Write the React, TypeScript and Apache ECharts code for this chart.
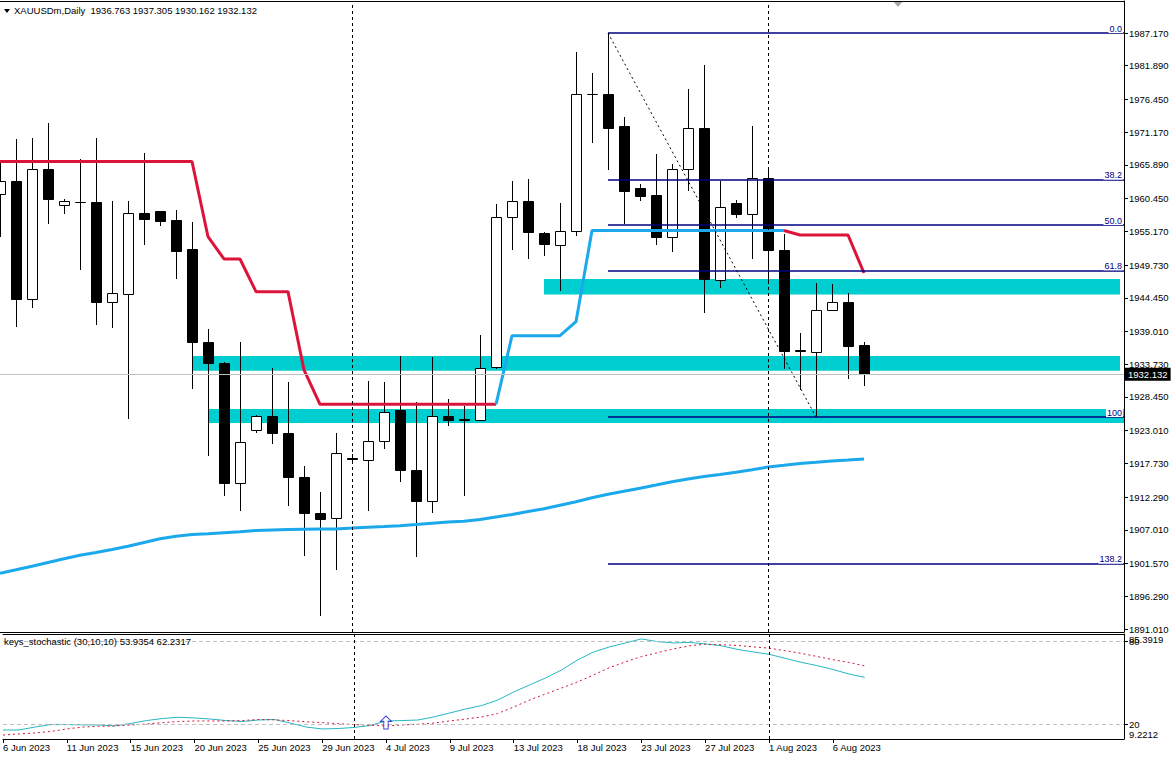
import React, { useEffect, useRef } from 'react';
import * as echarts from 'echarts';

// ---------------- data ----------------
const dates = [
  '6 Jun 2023', '7 Jun 2023', '8 Jun 2023', '9 Jun 2023', '11 Jun 2023', '12 Jun 2023', '13 Jun 2023', '14 Jun 2023',
  '15 Jun 2023', '16 Jun 2023', '18 Jun 2023', '19 Jun 2023', '20 Jun 2023', '21 Jun 2023', '22 Jun 2023', '23 Jun 2023',
  '25 Jun 2023', '26 Jun 2023', '27 Jun 2023', '28 Jun 2023', '29 Jun 2023', '30 Jun 2023', '2 Jul 2023', '3 Jul 2023',
  '4 Jul 2023', '5 Jul 2023', '6 Jul 2023', '7 Jul 2023', '9 Jul 2023', '10 Jul 2023', '11 Jul 2023', '12 Jul 2023',
  '13 Jul 2023', '14 Jul 2023', '16 Jul 2023', '17 Jul 2023', '18 Jul 2023', '19 Jul 2023', '20 Jul 2023', '21 Jul 2023',
  '23 Jul 2023', '24 Jul 2023', '25 Jul 2023', '26 Jul 2023', '27 Jul 2023', '28 Jul 2023', '30 Jul 2023', '31 Jul 2023',
  '1 Aug 2023', '2 Aug 2023', '3 Aug 2023', '4 Aug 2023', '6 Aug 2023', '7 Aug 2023', '8 Aug 2023',
];

const opens = [
  1961.2, 1963.3, 1944.3, 1965.2, 1959.5, 1959.9, 1959.9, 1943.8, 1945.0, 1958.1, 1958.5, 1957.0, 1952.3, 1937.3,
  1933.9, 1914.5, 1923.1, 1925.3, 1922.6, 1915.5, 1909.8, 1908.9, 1918.6, 1918.2, 1921.3, 1926.3, 1916.7, 1911.6,
  1925.3, 1924.9, 1924.8, 1933.3, 1957.5, 1960.0, 1954.9, 1953.0, 1955.3, 1977.3, 1977.4, 1972.2, 1962.1, 1961.0,
  1954.3, 1965.2, 1971.8, 1947.3, 1959.7, 1957.9, 1963.7, 1952.2, 1935.9, 1935.7, 1942.5, 1943.8, 1936.763,
];
const highs = [
  1966.2, 1970.1, 1970.3, 1972.6, 1960.4, 1966.8, 1970.2, 1960.0, 1960.1, 1967.8, 1958.5, 1958.6, 1956.6, 1939.4,
  1934.1, 1937.3, 1925.5, 1933.2, 1930.8, 1917.3, 1913.1, 1922.7, 1919.2, 1931.0, 1930.8, 1935.1, 1927.6, 1934.9,
  1928.2, 1927.0, 1938.4, 1959.6, 1963.3, 1963.6, 1955.1, 1959.8, 1984.1, 1980.7, 1987.17, 1973.6, 1962.8, 1967.7,
  1966.0, 1978.1, 1982.0, 1963.3, 1960.3, 1972.2, 1965.1, 1954.7, 1938.7, 1946.8, 1946.7, 1945.2, 1937.305,
];
const lows = [
  1954.3, 1939.8, 1942.8, 1956.4, 1957.9, 1949.0, 1940.0, 1939.6, 1924.9, 1953.0, 1956.0, 1947.5, 1929.7, 1919.0,
  1912.4, 1910.1, 1922.7, 1920.9, 1910.9, 1902.8, 1893.1, 1900.6, 1918.0, 1910.1, 1920.0, 1914.8, 1902.7, 1909.7,
  1923.8, 1912.4, 1924.5, 1932.9, 1952.2, 1950.7, 1951.2, 1945.6, 1954.4, 1969.5, 1965.1, 1956.4, 1960.1, 1953.0,
  1951.9, 1961.7, 1942.0, 1946.0, 1957.3, 1950.7, 1947.0, 1932.9, 1929.6, 1925.21, 1942.4, 1931.4, 1930.162,
];
const closes = [
  1963.3, 1944.3, 1965.2, 1960.4, 1960.0, 1959.85, 1943.8, 1945.2, 1958.1, 1957.2, 1956.9, 1952.0, 1937.3, 1933.9,
  1914.5, 1921.2, 1925.3, 1922.6, 1915.5, 1909.8, 1908.7, 1919.4, 1918.4, 1921.3, 1926.1, 1916.7, 1911.6, 1925.3,
  1924.8, 1924.8, 1933.2, 1957.5, 1960.0, 1955.1, 1953.1, 1955.3, 1977.3, 1977.4, 1971.9, 1961.7, 1960.9, 1954.3,
  1965.2, 1971.8, 1947.4, 1959.1, 1957.9, 1963.7, 1952.1, 1935.9, 1936.0, 1942.4, 1943.7, 1936.7, 1932.132,
];

const maValues = [
  1900.0, 1900.56, 1901.13, 1901.74, 1902.34, 1902.9, 1903.35, 1903.84, 1904.35, 1904.97, 1905.56, 1905.97, 1906.26,
  1906.37, 1906.53, 1906.69, 1906.89, 1907.0, 1907.06, 1907.1, 1907.13, 1907.16, 1907.29, 1907.44, 1907.55, 1907.68,
  1907.87, 1908.08, 1908.27, 1908.4, 1908.68, 1909.08, 1909.48, 1909.97, 1910.4, 1910.97, 1911.53, 1912.18, 1912.76,
  1913.24, 1913.73, 1914.24, 1914.78, 1915.21, 1915.6, 1915.94, 1916.29, 1916.71, 1917.15, 1917.42, 1917.7, 1917.91,
  1918.13, 1918.28, 1918.44,
];

const superTrendDown = [
  1966.44, 1966.44, 1966.44, 1966.44, 1966.44, 1966.44, 1966.44, 1966.44, 1966.44, 1966.44, 1966.44, 1966.44, 1966.44,
  1954.3, 1950.71, 1950.71, 1945.44, 1945.44, 1945.44, 1932.8, 1927.26, 1927.26, 1927.26, 1927.26, 1927.26, 1927.26,
  1927.26, 1927.26, 1927.26, 1927.26, 1927.26, 1927.26, null, null, null, null, null, null, null, null, null, null,
  null, null, null, null, null, null, null, 1955.3, 1954.58, 1954.58, 1954.58, 1954.58, 1948.45,
];
const superTrendUp = [
  null, null, null, null, null, null, null, null, null, null, null, null, null, null, null, null, null, null, null,
  null, null, null, null, null, null, null, null, null, null, null, null, 1927.26, 1938.33, 1938.33, 1938.33, 1938.33,
  1940.59, 1955.3, 1955.3, 1955.3, 1955.3, 1955.3, 1955.3, 1955.3, 1955.3, 1955.3, 1955.3, 1955.3, 1955.3, 1955.3,
  null, null, null, null, null,
];

const stochMain = [
  15.75, 15.75, 17.9, 19.7, 19.7, 19.5, 19.4, 18.7, 20.5, 22.6, 24.1, 25.0, 24.5, 23.7, 22.6, 21.9, 23.0, 23.4, 20.8,
  17.9, 16.5, 16.8, 17.6, 19.0, 22.3, 22.6, 23.0, 25.2, 28.1, 31.0, 33.5, 37.5, 43.3, 48.4, 53.5, 59.3, 66.5, 72.3,
  76.0, 78.9, 81.8, 79.9, 78.9, 79.3, 78.2, 76.9, 74.3, 72.4, 70.7, 67.8, 64.9, 62.5, 59.7, 56.4, 53.9354,
];
const stochSignal = [
  12.1, 12.9, 13.6, 14.7, 16.5, 17.9, 18.4, 18.7, 19.4, 20.1, 21.1, 21.9, 22.3, 22.3, 22.3, 22.6, 23.4, 23.1, 22.5,
  21.7, 21.1, 20.3, 19.7, 19.2, 18.7, 19.4, 19.9, 20.8, 22.3, 23.7, 25.2, 27.7, 32.4, 37.5, 41.9, 46.2, 50.6, 55.6,
  61.0, 65.1, 69.0, 71.8, 74.5, 76.8, 78.0, 77.6, 77.1, 76.1, 75.1, 73.3, 71.4, 69.1, 66.8, 64.8, 62.2317,
];
const stochArrows = [[24, 21.2]];
const stochLevels = [80, 20];
const stochMax = 85.3919;
const stochMin = 9.2212;

const priceTicks = [
  1987.17, 1981.89, 1976.45, 1971.17, 1965.89, 1960.45, 1955.17, 1949.73, 1944.45, 1939.01, 1933.73, 1928.45,
  1923.01, 1917.73, 1912.29, 1907.01, 1901.57, 1896.29, 1891.01,
];
const dateTickBars = [0, 4, 8, 12, 16, 20, 24, 28, 32, 36, 40, 44, 48, 52];
const separatorBars = [22, 48];

const zoneStartBars = [34, 12, 13];
const zoneEndBars = [70, 70, 70.25];
const zoneTops = [1947.48, 1935.06, 1926.51];
const zoneBottoms = [1944.98, 1932.68, 1924.25];

const fibHighBar = 38;
const fibLowBar = 51;
const fibLevels = [0, 38.2, 50, 61.8, 100, 138.2];
const fibLabels = ['0.0', '38.2', '50.0', '61.8', '100', '138.2'];

// ---------------- layout ----------------
const FONT = "'Liberation Sans', Arial, sans-serif";
const PLOT_W = 1124;
const X_MAX = PLOT_W / 16;
const MAIN_MAX = 1992.333;
const MAIN_MIN = 1890.527;
const NAVY = '#000080';
const ZONE = '#00CED1';
const BLUE = '#1BA9EC';
const RED = '#DC143C';

function buildOption() {
  const last = closes.length - 1;
  const fibHigh = highs[fibHighBar];
  const fibLow = lows[fibLowBar];
  const fibPrice = (lv: number) => fibHigh - ((fibHigh - fibLow) * lv) / 100;

  const candleData = opens.map((o, i) => [i, o, closes[i], lows[i], highs[i]]);
  const toXY = (arr: (number | null)[]) => arr.map((v, i) => [i, v]);

  const textBase = { fontFamily: FONT, fontSize: 9.5, color: '#000' };
  const borderAxis = (gridIndex: number, position: string) => ({
    type: 'value',
    gridIndex,
    position,
    min: 0,
    max: X_MAX,
    axisLine: { show: true, onZero: false, lineStyle: { color: '#000', width: 1 } },
    axisTick: { show: false },
    axisLabel: { show: false },
    splitLine: { show: false },
  });

  const fibMarks: any[] = fibLevels.map((lv, k) => [
    {
      coord: [fibHighBar, fibPrice(lv)],
      lineStyle: { color: NAVY, width: 1.5, type: 'solid' },
      label: {
        show: true,
        position: 'insideEndTop',
        formatter: fibLabels[k],
        color: NAVY,
        fontSize: 9,
        fontFamily: FONT,
        distance: [1, 0],
        backgroundColor: '#fff',
        padding: [1, 1, 0, 1],
      },
    },
    { coord: [X_MAX, fibPrice(lv)] },
  ]);
  fibMarks.push([
    {
      coord: [fibHighBar, fibHigh],
      lineStyle: { color: '#000', width: 1, type: [2, 3] },
      label: { show: false },
    },
    { coord: [fibLowBar, fibLow] },
  ]);

  const yAxisBase = {
    type: 'value',
    position: 'right',
    splitLine: { show: false },
  };

  return {
    animation: false,
    backgroundColor: '#fff',
    textStyle: { fontFamily: FONT },
    title: [
      {
        text: `XAUUSDm,Daily  ${opens[last].toFixed(3)} ${highs[last].toFixed(3)} ${lows[last].toFixed(3)} ${closes[last].toFixed(3)}`,
        left: 14,
        top: 5,
        padding: 0,
        textStyle: { ...textBase, fontWeight: 'normal' },
      },
      {
        text: `keys_stochastic (30,10,10) ${stochMain[last].toFixed(4)} ${stochSignal[last].toFixed(4)}`,
        left: 4,
        top: 636,
        padding: 0,
        textStyle: { ...textBase, fontWeight: 'normal' },
      },
    ],
    graphic: [
      { type: 'polygon', shape: { points: [[4, 9], [10, 9], [7, 13]] }, style: { fill: '#000' }, silent: true },
      { type: 'polygon', shape: { points: [[893, 1], [903, 1], [898, 7]] }, style: { fill: '#A8A8A8' }, silent: true },
    ],
    grid: [
      { left: 0, top: 1, width: PLOT_W, height: 631, show: false },
      { left: 0, top: 634, width: PLOT_W, height: 105, show: false },
    ],
    xAxis: [
      borderAxis(0, 'bottom'),
      {
        type: 'value',
        gridIndex: 1,
        position: 'bottom',
        min: 0,
        max: X_MAX,
        axisLine: { show: true, onZero: false, lineStyle: { color: '#000', width: 1 } },
        splitLine: { show: false },
        axisTick: { show: true, customValues: dateTickBars, length: 4, lineStyle: { color: '#000' } },
        axisLabel: {
          customValues: dateTickBars,
          formatter: (v: number) => dates[Math.round(v)],
          align: 'left',
          margin: 3,
          ...textBase,
        },
      },
      borderAxis(0, 'top'),
      borderAxis(1, 'top'),
    ],
    yAxis: [
      {
        ...yAxisBase,
        gridIndex: 0,
        min: MAIN_MIN,
        max: MAIN_MAX,
        axisLine: { show: true, onZero: false, lineStyle: { color: '#000' } },
        axisTick: { show: true, customValues: priceTicks, length: 4, lineStyle: { color: '#000' } },
        axisLabel: { customValues: priceTicks, formatter: (v: number) => v.toFixed(3), margin: 5, ...textBase },
      },
      {
        ...yAxisBase,
        gridIndex: 1,
        min: stochMin,
        max: stochMax,
        axisLine: { show: true, onZero: false, lineStyle: { color: '#000' } },
        axisTick: { show: true, customValues: stochLevels, length: 4, lineStyle: { color: '#000' } },
        axisLabel: { customValues: stochLevels, formatter: (v: number) => String(Math.round(v)), margin: 5, ...textBase },
      },
      {
        ...yAxisBase,
        gridIndex: 1,
        min: stochMin,
        max: stochMax,
        axisLine: { show: false, onZero: false },
        axisTick: { show: false },
        axisLabel: {
          customValues: [stochMax],
          formatter: () => stochMax.toFixed(4),
          verticalAlign: 'top',
          margin: 5,
          ...textBase,
        },
      },
      {
        ...yAxisBase,
        gridIndex: 1,
        min: stochMin,
        max: stochMax,
        axisLine: { show: false, onZero: false },
        axisTick: { show: false },
        axisLabel: {
          customValues: [stochMin],
          formatter: () => stochMin.toFixed(4),
          verticalAlign: 'bottom',
          margin: 5,
          ...textBase,
        },
      },
    ],
    series: [
      {
        name: 'ma',
        type: 'line',
        xAxisIndex: 0,
        yAxisIndex: 0,
        data: toXY(maValues),
        showSymbol: false,
        lineStyle: { color: BLUE, width: 3 },
        z: 3,
        silent: true,
        markArea: {
          silent: true,
          itemStyle: { color: ZONE, opacity: 1 },
          data: zoneStartBars.map((s, k) => [
            { coord: [s, zoneTops[k]] },
            { coord: [zoneEndBars[k], zoneBottoms[k]] },
          ]),
        },
        markLine: {
          silent: true,
          symbol: ['none', 'none'],
          animation: false,
          data: [
            {
              yAxis: closes[last],
              lineStyle: { color: '#C0C0C0', width: 1, type: 'solid' },
              label: {
                show: true,
                position: 'end',
                formatter: closes[last].toFixed(3),
                backgroundColor: '#000',
                color: '#fff',
                padding: [2, 3, 1, 3],
                distance: 1,
                fontSize: 9.5,
                fontFamily: FONT,
              },
            },
            ...separatorBars.map((b) => ({
              xAxis: b,
              lineStyle: { color: '#000', width: 1, type: [3, 3] },
              label: { show: false },
            })),
          ],
        },
      },
      {
        name: 'candles',
        type: 'custom',
        xAxisIndex: 0,
        yAxisIndex: 0,
        clip: true,
        z: 2,
        silent: true,
        encode: { x: 0, y: [1, 2, 3, 4] },
        data: candleData,
        renderItem: (params: any, api: any) => {
          const i = api.value(0);
          const o = api.value(1);
          const c = api.value(2);
          const l = api.value(3);
          const h = api.value(4);
          const po = api.coord([i, o]);
          const pc = api.coord([i, c]);
          const pl = api.coord([i, l]);
          const ph = api.coord([i, h]);
          const x = Math.round(po[0]) + 0.5;
          const yTop = Math.round(Math.min(po[1], pc[1])) + 0.5;
          const yBot = Math.round(Math.max(po[1], pc[1])) + 0.5;
          const bull = c > o;
          return {
            type: 'group',
            children: [
              {
                type: 'line',
                shape: { x1: x, y1: Math.round(ph[1]), x2: x, y2: Math.round(pl[1]) },
                style: { stroke: '#000', lineWidth: 1 },
              },
              {
                type: 'rect',
                shape: { x: x - 5, y: yTop, width: 10, height: yBot - yTop },
                style: { fill: bull ? '#fff' : '#000', stroke: '#000', lineWidth: 1 },
              },
            ],
          };
        },
      },
      {
        name: 'stDown',
        type: 'line',
        xAxisIndex: 0,
        yAxisIndex: 0,
        data: toXY(superTrendDown),
        showSymbol: false,
        connectNulls: false,
        lineStyle: { color: RED, width: 3 },
        z: 4,
        silent: true,
      },
      {
        name: 'stUp',
        type: 'line',
        xAxisIndex: 0,
        yAxisIndex: 0,
        data: toXY(superTrendUp),
        showSymbol: false,
        connectNulls: false,
        lineStyle: { color: BLUE, width: 3 },
        z: 4,
        silent: true,
        markLine: {
          silent: true,
          symbol: ['none', 'none'],
          animation: false,
          data: fibMarks,
        },
      },
      {
        name: 'stochMain',
        type: 'line',
        xAxisIndex: 1,
        yAxisIndex: 1,
        data: toXY(stochMain),
        showSymbol: false,
        lineStyle: { color: '#26B6C2', width: 1 },
        z: 3,
        silent: true,
        markLine: {
          silent: true,
          symbol: ['none', 'none'],
          animation: false,
          data: [
            ...stochLevels.map((lv) => ({
              yAxis: lv,
              lineStyle: { color: '#C0C0C0', width: 1, type: [4, 3] },
              label: { show: false },
            })),
            ...separatorBars.map((b) => ({
              xAxis: b,
              lineStyle: { color: '#000', width: 1, type: [3, 3] },
              label: { show: false },
            })),
          ],
        },
      },
      {
        name: 'stochSignal',
        type: 'line',
        xAxisIndex: 1,
        yAxisIndex: 1,
        data: toXY(stochSignal),
        showSymbol: false,
        lineStyle: { color: '#D01434', width: 1, type: [2, 3] },
        z: 3,
        silent: true,
      },
      {
        name: 'arrows',
        type: 'scatter',
        xAxisIndex: 1,
        yAxisIndex: 1,
        data: stochArrows,
        symbol: 'path://M5 0 L10 5 L7 5 L7 12 L3 12 L3 5 L0 5 Z',
        symbolSize: [11, 13],
        itemStyle: { color: '#fff', borderColor: '#1818D8', borderWidth: 1 },
        z: 5,
        silent: true,
      },
    ],
  };
}

export default function App() {
  const ref = useRef<HTMLDivElement>(null);
  useEffect(() => {
    if (!ref.current) return;
    const chart = echarts.init(ref.current, null, { renderer: 'svg' });
    chart.setOption(buildOption() as any);
    return () => {
      chart.dispose();
    };
  }, []);
  return (
    <div
      ref={ref}
      style={{ position: 'absolute', left: 0, top: 0, width: 1174, height: 759, background: '#fff' }}
    />
  );
}
